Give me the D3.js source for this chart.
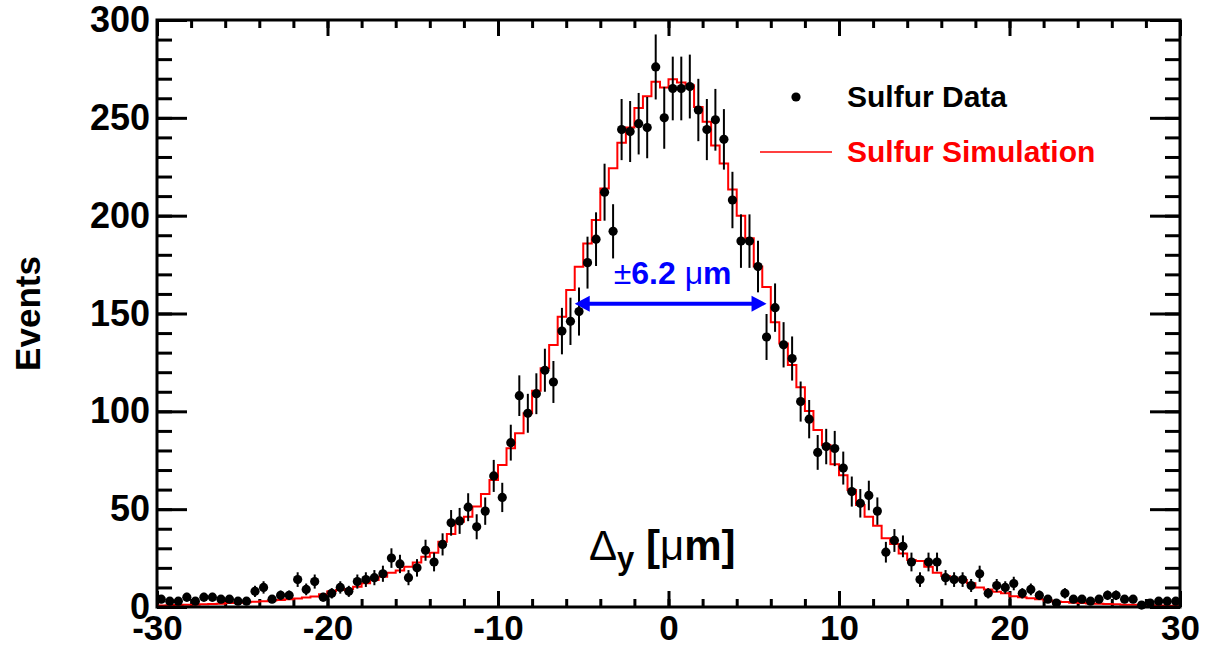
<!DOCTYPE html>
<meta charset="utf-8">
<style>
  body { margin: 0; background: #fff; }
  text { font-family: "Liberation Sans", Arial, Helvetica, sans-serif; }
</style>
<div id="chart"></div>
<script src="https://d3js.org/d3.v7.min.js"></script>
<script>
// histogram binning: 120 bins of 0.5 um from -30 to 30
var xMin = -30, xMax = 30, binWidth = 0.5;

// measured counts per bin (Sulfur Data)
var dataCounts = [4, 3, 3, 5, 3, 5, 5, 4, 4, 3,
                  3, 8, 10, 4, 6, 6, 14, 9, 13, 5,
                  7, 10, 8, 13, 14, 15, 17, 25, 22, 15,
                  20, 29, 23, 32, 43, 44, 51, 41, 49, 67,
                  56, 84, 108, 99, 109, 121, 115, 141, 146, 151,
                  176, 188, 212, 192, 244, 243, 247, 245, 276, 250,
                  265, 265, 266, 254, 244, 249, 239, 208, 187, 187,
                  174, 138, 153, 134, 127, 105, 96, 79, 82, 81,
                  71, 59, 53, 57, 49, 28, 34, 31, 23, 14,
                  23, 23, 15, 14, 14, 11, 17, 7, 11, 10,
                  12, 7, 9, 6, 4, 2, 7, 4, 4, 3,
                  4, 6, 6, 4, 4, 1, 2, 3, 3, 3];

// simulated histogram per bin (Sulfur Simulation)
var simCounts = [0.8, 0.9, 1.0, 1.1, 1.2, 1.4, 1.5, 1.7, 2.0, 2.2,
                 2.4, 2.7, 3.0, 3.3, 3.6, 4.0, 4.4, 4.8, 5.4, 6.5,
                 8.0, 8.7, 9.2, 10.4, 12.1, 13.8, 15.5, 17.5, 18.6, 20.6,
                 22.7, 25.7, 27.7, 33.4, 37.3, 43.6, 46.1, 51.3, 57.7, 64.9,
                 72.6, 81.1, 88.8, 99, 110.5, 122, 133.9, 148.3, 162, 173.9,
                 185.8, 197.8, 213.9, 224.2, 237.3, 245, 255, 261, 268.5, 265.5,
                 269.7, 268, 266.7, 255.5, 248, 235.8, 226.7, 213.4, 200, 188.4,
                 174, 163.5, 145.5, 134.7, 123.7, 112.3, 100.2, 90.4, 82.8, 72.9,
                 67.3, 59.8, 52.1, 46.1, 41.5, 35.1, 32.2, 27.4, 24, 23.5,
                 20.6, 17.5, 15.8, 14.6, 13.8, 12.1, 10, 9, 7.8, 7,
                 5.5, 5, 4.5, 4, 3.3, 2.8, 2.5, 2.2, 2.0, 1.8,
                 1.6, 1.5, 1.4, 1.2, 1.1, 1.0, 0.9, 0.8, 0.7, 0.6];

var xMajorTicks = [-30, -20, -10, 0, 10, 20, 30];
var yMajorTicks = [0, 50, 100, 150, 200, 250, 300];
var arrowSpan = [-5.5, 5.75], arrowLevel = 155;   // the "±6.2 um" marker

var W = 1215, H = 650;
var margin = {top: 20, right: 35, bottom: 43, left: 157},
    width = W - margin.left - margin.right,
    height = H - margin.top - margin.bottom;

var svg = d3.select("#chart").append("svg").attr("width", W).attr("height", H);
var g = svg.append("g").attr("transform", "translate(" + margin.left + "," + margin.top + ")");

var x = d3.scaleLinear().domain([xMin, xMax]).range([0, width]);
var y = d3.scaleLinear().domain([0, 300]).range([height, 0]);

var xMinor = d3.range(xMin, xMax + 0.001, 2);
var yMinor = d3.range(0, 300.001, 10);
var plain = function(d) { return String(d); };   // keep the ascii hyphen

// axes: ticks inside the frame on all 4 sides
function styleAxis(size) {
  return function(sel) {
    sel.select(".domain").remove();
    sel.selectAll("line").attr("stroke", "#000").attr("stroke-width", 3);
    sel.selectAll("text").attr("fill", "#000").style("font-size", size + "px").style("font-weight", "bold")
      .style("font-family", '"Liberation Sans", Arial, sans-serif');
  };
}
g.append("g").attr("transform", "translate(0," + height + ")")
  .call(d3.axisBottom(x).tickValues(xMinor).tickSize(-8).tickFormat("")).call(styleAxis(35));
g.append("g").attr("transform", "translate(0," + height + ")")
  .call(d3.axisBottom(x).tickValues(xMajorTicks).tickSize(-16).tickPadding(8).tickFormat(plain)).call(styleAxis(35));
g.append("g")
  .call(d3.axisTop(x).tickValues(xMinor).tickSize(-8).tickFormat("")).call(styleAxis(35));
g.append("g")
  .call(d3.axisTop(x).tickValues(xMajorTicks).tickSize(-16).tickFormat("")).call(styleAxis(35));
g.append("g")
  .call(d3.axisLeft(y).tickValues(yMinor).tickSize(-15).tickFormat("")).call(styleAxis(36));
g.append("g")
  .call(d3.axisLeft(y).tickValues(yMajorTicks).tickSize(-30).tickPadding(7).tickFormat(plain)).call(styleAxis(36));
g.append("g").attr("transform", "translate(" + width + ",0)")
  .call(d3.axisRight(y).tickValues(yMinor).tickSize(-15).tickFormat("")).call(styleAxis(36));
g.append("g").attr("transform", "translate(" + width + ",0)")
  .call(d3.axisRight(y).tickValues(yMajorTicks).tickSize(-30).tickFormat("")).call(styleAxis(36));

// simulation histogram as steps
var simPts = simCounts.map(function(v, i) { return [xMin + i * binWidth, v]; });
simPts.push([xMax, simCounts[simCounts.length - 1]]);
g.append("path")
  .datum(simPts)
  .attr("fill", "none")
  .attr("stroke", "#ff0000")
  .attr("stroke-width", 2)
  .attr("d", d3.line().curve(d3.curveStepAfter)
    .x(function(d) { return x(d[0]); })
    .y(function(d) { return y(d[1]); }));

// data points with sqrt(N) error bars
var pts = dataCounts.map(function(v, i) { return {c: xMin + (i + 0.5) * binWidth, v: v}; });
g.selectAll(".err").data(pts).enter().append("line")
  .attr("x1", function(d) { return x(d.c); })
  .attr("x2", function(d) { return x(d.c); })
  .attr("y1", function(d) { return y(Math.max(0, d.v - Math.sqrt(d.v))); })
  .attr("y2", function(d) { return y(d.v + Math.sqrt(d.v)); })
  .attr("stroke", "#000").attr("stroke-width", 2);
g.selectAll(".pt").data(pts).enter().append("circle")
  .attr("cx", function(d) { return x(d.c); })
  .attr("cy", function(d) { return y(d.v); })
  .attr("r", 4.6)
  .attr("fill", "#000");

// frame
g.append("rect").attr("width", width).attr("height", height)
  .attr("fill", "none").attr("stroke", "#000").attr("stroke-width", 3);

// double arrow for the width
var ay = y(arrowLevel), ax1 = x(arrowSpan[0]), ax2 = x(arrowSpan[1]);
g.append("line").attr("x1", ax1 + 12).attr("x2", ax2 - 12).attr("y1", ay).attr("y2", ay)
  .attr("stroke", "#0000ff").attr("stroke-width", 4);
g.append("path").attr("fill", "#0000ff")
  .attr("d", "M" + ax1 + "," + ay + "l15,-8v16z M" + ax2 + "," + ay + "l-15,-8v16z");
var lbl = g.append("text").attr("x", (ax1 + ax2) / 2 + 2).attr("y", ay - 20)
  .attr("text-anchor", "middle").attr("fill", "#0000ff").style("font-size", "32px").style("font-weight", "bold");
lbl.append("tspan").style("font-weight", "normal").text("±");
lbl.append("tspan").text("6.2 ");
lbl.append("tspan").style("font-weight", "normal").text("μ");
lbl.append("tspan").text("m");

// legend
var leg = g.append("g").attr("transform", "translate(" + (796 - margin.left) + "," + (97 - margin.top) + ")");
leg.append("circle").attr("r", 4.6).attr("fill", "#000");
leg.append("text").attr("x", 51).attr("y", 10).style("font-size", "30px").style("font-weight", "bold").text("Sulfur Data");
leg.append("line").attr("x1", -36).attr("x2", 36).attr("y1", 55).attr("y2", 55)
  .attr("stroke", "#ff0000").attr("stroke-width", 1.5);
leg.append("text").attr("x", 51).attr("y", 65).attr("fill", "#ff0000")
  .style("font-size", "30px").style("font-weight", "bold").text("Sulfur Simulation");

// x axis title sits inside the frame
var xt = svg.append("text").attr("x", 589).attr("y", 560).style("font-size", "42px").style("font-weight", "bold");
xt.append("tspan").style("font-weight", "normal").text("Δ");
xt.append("tspan").attr("dy", 9).style("font-size", "31px").text("y");
xt.append("tspan").attr("dy", -9).text(" [");
xt.append("tspan").style("font-weight", "normal").text("μ");
xt.append("tspan").text("m]");

// y axis title
svg.append("text")
  .attr("transform", "translate(40," + (margin.top + height / 2) + ") rotate(-90)")
  .attr("text-anchor", "middle")
  .style("font-size", "35px").style("font-weight", "bold")
  .text("Events");
</script>
